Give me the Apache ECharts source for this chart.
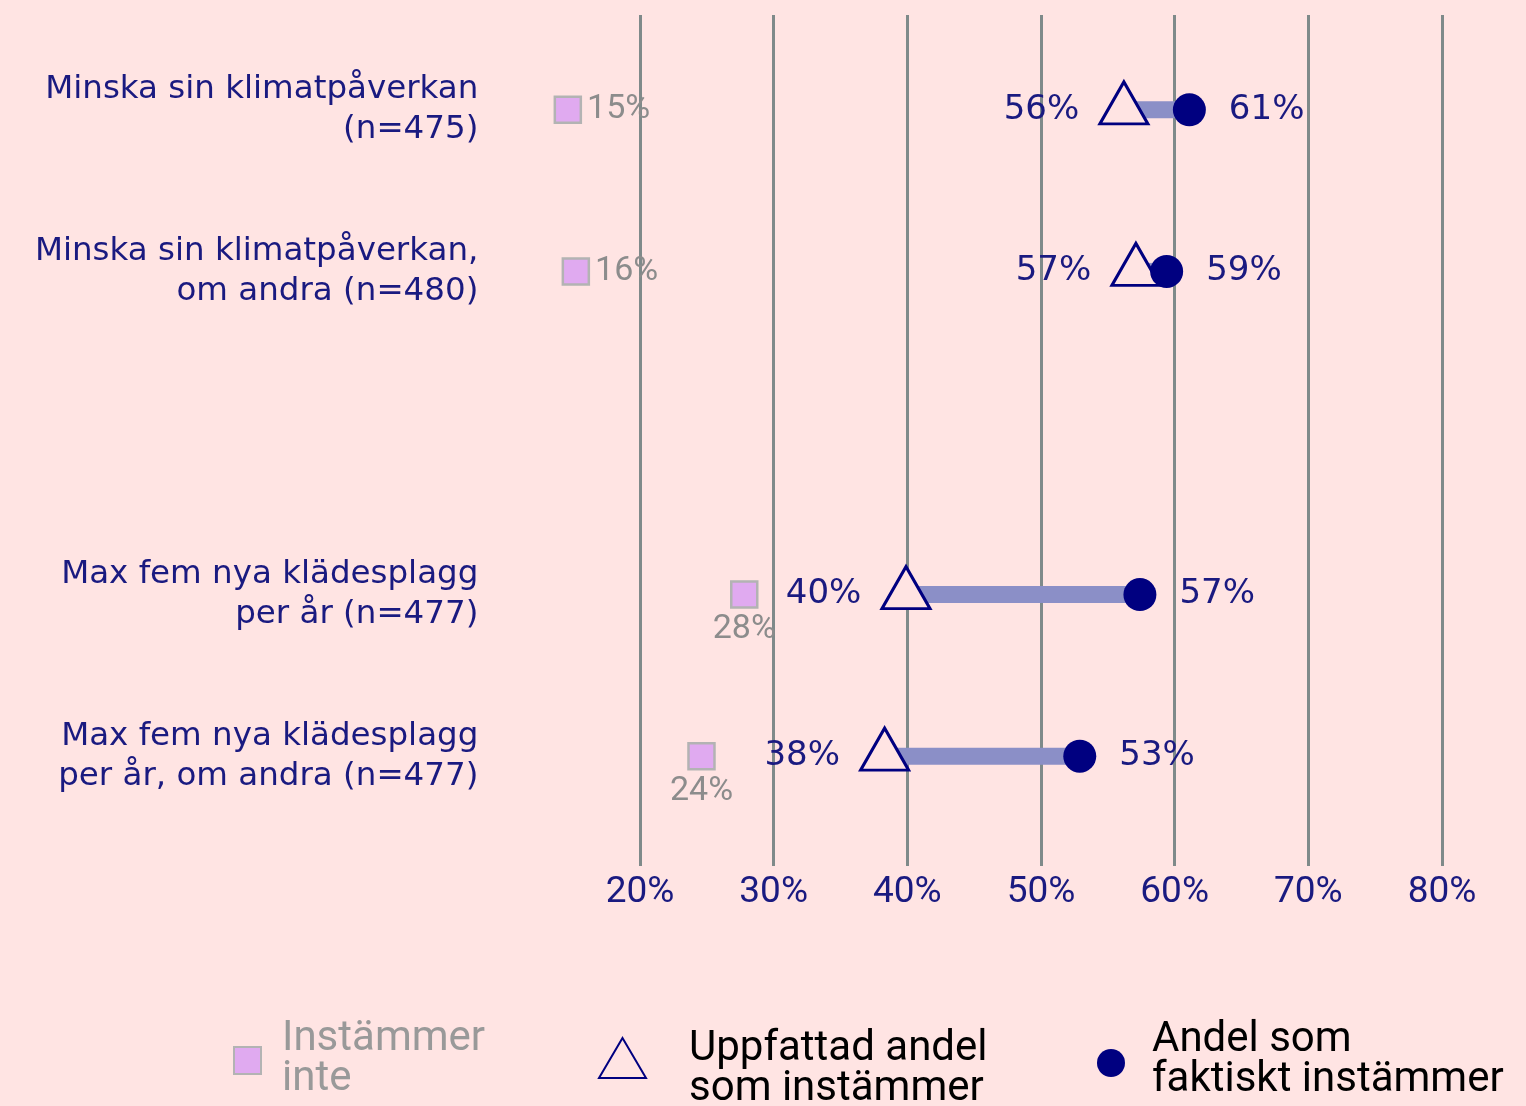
<!DOCTYPE html>
<html>
<head>
<meta charset="utf-8">
<script src="https://cdn.jsdelivr.net/npm/echarts@6/dist/echarts.min.js"></script>
<style>
  html, body { margin: 0; padding: 0; background: #ffe4e3; }
  #chart { width: 1526px; height: 1106px; }
</style>
</head>
<body>
<div id="chart"></div>
<script>
// frågor (radetiketter)
const rows = [
  'Minska sin klimatpåverkan\n(n=475)',
  'Minska sin klimatpåverkan,\nom andra (n=480)',
  'Max fem nya klädesplagg\nper år (n=477)',
  'Max fem nya klädesplagg\nper år, om andra (n=477)'
]
// y-axelns kategorier, med en tom rad mellan grupperna
const yCategories = [rows[0], rows[1], '', rows[2], rows[3]]

// andelar i procent
const notAgree = [14.6, 15.2, 27.8, 24.6]
const notAgreeText = ['15%', '16%', '28%', '24%']
const perceived = [56.2, 57.1, 39.9, 38.3]
const actual = [61.1, 59.4, 57.4, 52.9]

const xTicks = [20, 30, 40, 50, 60, 70, 80]

const seriesNames = ['Instämmer\ninte', 'Uppfattad andel\nsom instämmer', 'Andel som\nfaktiskt instämmer']

const BG = '#ffe4e3'
const NAVY = '#000080'
const TXT = '#1a1a80'
const GRID = '#7f8a8a'

const chart = echarts.init(document.getElementById('chart'))

const splitLine = { show: true, lineStyle: { color: GRID, width: 3 } }
const gridR = 84

// legend: symbolen och texten läggs ut var för sig
function iconLegend(name, left, top, w, h) {
  return {
    data: [name], left: left, top: top, padding: 0,
    itemWidth: w, itemHeight: h, selectedMode: false,
    formatter: () => '',
    textStyle: { fontSize: 1, lineHeight: 1 }
  }
}
function textLegend(name, left, top, color) {
  return {
    data: [name], left: left, top: top, padding: 0,
    icon: 'rect', itemWidth: 1, itemHeight: 1, selectedMode: false,
    itemStyle: { color: 'rgba(0,0,0,0)', borderWidth: 0 },
    textStyle: { fontSize: 42, lineHeight: 40, color: color, fontFamily: 'Roboto' }
  }
}

const option = {
  backgroundColor: BG,
  animation: false,
  grid: [
    { left: 506.33, right: gridR, top: 29, height: 808 },
    // förlängning av linjerna uppåt / nedåt (med skalans etiketter)
    { left: 640, right: gridR, top: 15, height: 14 },
    { left: 640, right: gridR, top: 837, height: 29 }
  ],
  xAxis: [
    {
      gridIndex: 0, type: 'value', min: 10, max: 80, interval: 10,
      axisLine: { show: false }, axisTick: { show: false }, axisLabel: { show: false },
      splitLine: Object.assign({ showMinLine: false }, splitLine)
    },
    {
      gridIndex: 1, type: 'value', min: xTicks[0], max: xTicks[xTicks.length - 1], interval: 10,
      axisLine: { show: false }, axisTick: { show: false }, axisLabel: { show: false },
      splitLine: splitLine
    },
    {
      gridIndex: 2, type: 'value', min: xTicks[0], max: xTicks[xTicks.length - 1], interval: 10,
      axisLine: { show: false }, axisTick: { show: false },
      axisLabel: {
        margin: 8, color: TXT, fontSize: 37, fontFamily: 'Roboto',
        formatter: v => v + '%'
      },
      splitLine: splitLine
    }
  ],
  yAxis: [
    {
      gridIndex: 0, type: 'category', inverse: true, data: yCategories,
      axisLine: { show: false }, axisTick: { show: false }, splitLine: { show: false },
      axisLabel: {
        margin: 28, align: 'right', color: TXT, fontSize: 32.5, lineHeight: 40,
        fontFamily: 'DejaVu Sans'
      }
    },
    { gridIndex: 1, type: 'value', show: false },
    { gridIndex: 2, type: 'value', show: false }
  ],
  legend: [
    iconLegend(seriesNames[0], 233, 1046, 27, 27),
    textLegend(seriesNames[0], 276, 1018, '#999999'),
    iconLegend(seriesNames[1], 598, 1037, 47, 40),
    textLegend(seriesNames[1], 683, 1028, '#000000'),
    iconLegend(seriesNames[2], 1097, 1049, 28, 28),
    textLegend(seriesNames[2], 1146, 1019, '#000000')
  ],
  series: [
    {
      // förbindelse mellan uppfattad och faktisk andel
      type: 'custom',
      z: 1,
      silent: true,
      encode: { x: [0, 1], y: 2 },
      data: rows.map((r, i) => [perceived[i], actual[i], r]),
      renderItem(params, api) {
        const a = api.coord([api.value(0), api.value(2)])
        const b = api.coord([api.value(1), api.value(2)])
        return {
          type: 'line',
          shape: { x1: a[0], y1: a[1], x2: b[0], y2: b[1] },
          style: { stroke: '#8b8fc7', lineWidth: 17 }
        }
      }
    },
    {
      name: seriesNames[0],
      type: 'scatter',
      z: 2,
      symbol: 'rect',
      symbolSize: 26,
      itemStyle: { color: '#e0aaf0', borderColor: '#b3b3b3', borderWidth: 2.5, opacity: 1 },
      data: rows.map((r, i) => ({
        value: [notAgree[i], r],
        label: {
          show: true,
          formatter: notAgreeText[i],
          position: i < 2 ? 'right' : 'bottom',
          distance: i < 2 ? 5 : 4
        }
      })),
      label: { color: '#8c8c8c', fontSize: 34, fontFamily: 'Roboto' }
    },
    {
      name: seriesNames[1],
      type: 'scatter',
      z: 3,
      symbol: 'triangle',
      symbolSize: [48, 42],
      symbolOffset: [0, -7],
      itemStyle: { color: BG, borderColor: NAVY, borderWidth: 3, opacity: 1 },
      data: rows.map((r, i) => [perceived[i], r]),
      label: {
        show: true, position: 'left', distance: 19, offset: [0, 7],
        color: TXT, fontSize: 34, fontFamily: 'DejaVu Sans',
        formatter: p => Math.round(p.value[0]) + '%'
      }
    },
    {
      name: seriesNames[2],
      type: 'scatter',
      z: 4,
      symbol: 'circle',
      symbolSize: 33,
      itemStyle: { color: NAVY, opacity: 1 },
      data: rows.map((r, i) => [actual[i], r]),
      label: {
        show: true, position: 'right', distance: 23,
        color: TXT, fontSize: 34, fontFamily: 'DejaVu Sans',
        formatter: p => Math.round(p.value[0]) + '%'
      }
    }
  ]
}

chart.setOption(option)
</script>
</body>
</html>
